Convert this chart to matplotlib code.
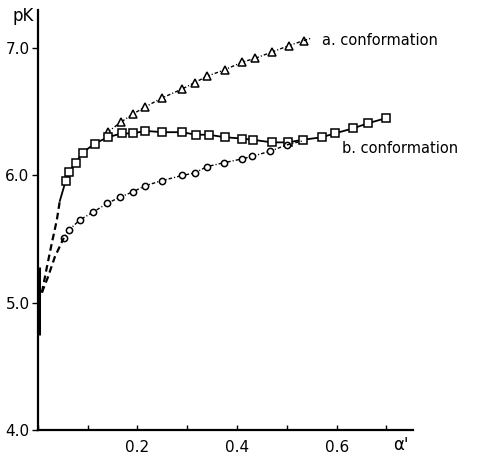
import matplotlib.pyplot as plt
from matplotlib.ticker import MultipleLocator

# degree of ionisation alpha' and pK for each conformation series
alpha_a = [0.14, 0.167, 0.19, 0.216, 0.25, 0.29, 0.315, 0.34, 0.375, 0.41, 0.436, 0.47, 0.504, 0.534]
pk_a = [6.34, 6.42, 6.48, 6.54, 6.61, 6.68, 6.73, 6.78, 6.83, 6.89, 6.92, 6.97, 7.02, 7.06]

alpha_b = [0.056, 0.063, 0.076, 0.09, 0.114, 0.14, 0.168, 0.19, 0.216, 0.25, 0.29, 0.317,
           0.343, 0.376, 0.41, 0.432, 0.47, 0.502, 0.532, 0.57, 0.596, 0.633, 0.663, 0.699]
pk_b = [5.96, 6.03, 6.10, 6.18, 6.25, 6.30, 6.33, 6.33, 6.35, 6.34, 6.34, 6.32,
        6.32, 6.30, 6.29, 6.28, 6.26, 6.26, 6.28, 6.30, 6.33, 6.37, 6.41, 6.45]

alpha_c = [0.052, 0.062, 0.084, 0.11, 0.139, 0.165, 0.19, 0.216, 0.25, 0.29, 0.315,
           0.34, 0.374, 0.41, 0.43, 0.466, 0.50]
pk_c = [5.51, 5.57, 5.65, 5.71, 5.78, 5.83, 5.87, 5.92, 5.96, 6.00, 6.02,
        6.07, 6.10, 6.13, 6.15, 6.19, 6.24]

# extrapolated low-alpha parts (dashed)
alpha_b_low = [0.008, 0.018, 0.028, 0.038, 0.044]
pk_b_low = [5.08, 5.28, 5.47, 5.65, 5.80]
alpha_c_low = [0.008, 0.02, 0.034, 0.052]
pk_c_low = [5.08, 5.20, 5.36, 5.51]

fig = plt.figure(figsize=(4.8, 4.55), dpi=100)
ax = fig.add_axes([0.079, 0.055, 0.781, 0.923])

dashdot = (0, (2.5, 1.5, 0.8, 1.5))

ax.plot(alpha_a, pk_a, color='black', lw=1.0, linestyle=dashdot,
        marker='^', ms=6, mfc='white', mec='black', mew=1.1)
ax.plot([alpha_a[-1], 0.55], [pk_a[-1], 7.08], color='black', lw=1.0, linestyle=dashdot)

ax.plot([alpha_b_low[-1], alpha_b[0]], [pk_b_low[-1], pk_b[0]], color='black', lw=1.3)
ax.plot(alpha_b, pk_b, color='black', lw=1.3,
        marker='s', ms=5.5, mfc='white', mec='black', mew=1.1)
ax.plot(alpha_b_low, pk_b_low, color='black', lw=1.6, linestyle=(0, (3, 1.8)))

ax.plot(alpha_c, pk_c, color='black', lw=1.0, linestyle=dashdot,
        marker='o', ms=4.5, mfc='white', mec='black', mew=1.1)
ax.plot([alpha_c[-1], 0.53], [pk_c[-1], 6.27], color='black', lw=1.0, linestyle=dashdot)
ax.plot(alpha_c_low, pk_c_low, color='black', lw=1.6, linestyle=(0, (3, 1.8)))

# heavy stroke on the axis near the starting point
ax.plot([0.002, 0.002], [4.75, 5.28], color='black', lw=2.2, solid_capstyle='butt')

ax.text(0.571, 7.06, 'a. conformation', fontsize=10.5, va='center', ha='left')
ax.text(0.61, 6.21, 'b. conformation', fontsize=10.5, va='center', ha='left')

ax.set_xlim(0, 0.753)
ax.set_ylim(4.0, 7.3)

for side in ['top', 'right']:
    ax.spines[side].set_visible(False)
ax.spines['left'].set_linewidth(1.6)
ax.spines['bottom'].set_linewidth(1.6)

ax.xaxis.set_major_locator(MultipleLocator(0.2))
ax.xaxis.set_minor_locator(MultipleLocator(0.1))
ax.set_xticks([0.2, 0.4, 0.6])
ax.set_xticklabels(['0.2', '0.4', '0.6'])
ax.set_yticks([4.0, 5.0, 6.0, 7.0])
ax.set_yticklabels(['4.0', '5.0', '6.0', '7.0'])

ax.tick_params(axis='x', which='both', direction='in', length=3.5, width=1.0, pad=7, labelsize=11)
ax.tick_params(axis='y', direction='out', length=4, width=1.0, pad=2, labelsize=11)

fig.text(0.025, 0.965, 'pK', fontsize=12, ha='left', va='center')
fig.text(0.835, 0.022, "α'", fontsize=12, ha='center', va='center')

fig.savefig('out.png', dpi=100)
